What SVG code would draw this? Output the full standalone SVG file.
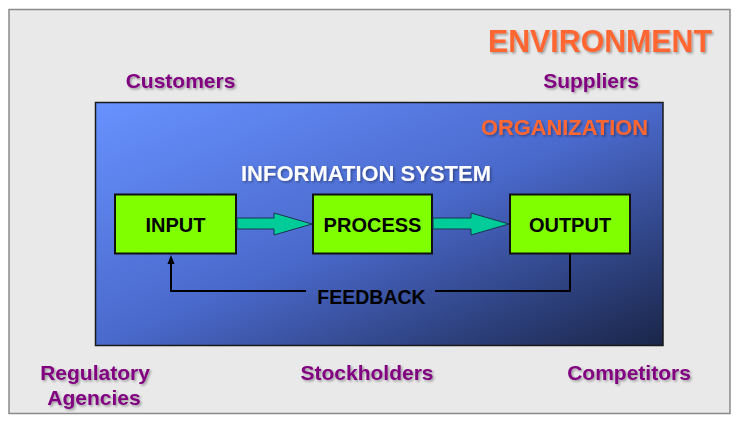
<svg xmlns="http://www.w3.org/2000/svg" width="740" height="424" viewBox="0 0 740 424">
  <defs>
    <linearGradient id="org" x1="0" y1="0" x2="1" y2="1">
      <stop offset="0" stop-color="#6892ff"/>
      <stop offset="0.5" stop-color="#4a69cc"/>
      <stop offset="1" stop-color="#1a2548"/>
    </linearGradient>
    <filter id="sh" x="-10%" y="-20%" width="120%" height="150%">
      <feDropShadow dx="1.5" dy="1.5" stdDeviation="0.8" flood-color="#000" flood-opacity="0.35"/>
    </filter>
    <marker id="ah" viewBox="0 0 8 10" refX="4" refY="1" markerWidth="8" markerHeight="10" markerUnits="userSpaceOnUse" orient="auto-start-reverse">
      <path d="M0,0 L8,5 L0,10 Z" fill="#000"/>
    </marker>
    <style>
      text { font-family: "Liberation Sans", Arial, sans-serif; font-weight: bold; text-anchor: middle; }
      .env { fill: #800080; font-size: 21px; filter: url(#sh); }
      .orange { fill: #ff6633; filter: url(#sh); }
      .box { fill: #80ff00; stroke: #111; stroke-width: 2; }
      .lbl { fill: #000; font-size: 20px; }
      .flow { fill: #00cc99; stroke: #1a3550; stroke-width: 1; }
      .fb { fill: none; stroke: #000; stroke-width: 2; }
    </style>
  </defs>

  <g id="environment">
    <rect x="9" y="9.5" width="721" height="404" fill="#e9e9e9" stroke="#8a8a8a" stroke-width="1.5"/>
    <text class="orange" x="600" y="52" font-size="32" textLength="224" lengthAdjust="spacingAndGlyphs">ENVIRONMENT</text>
  </g>

  <g id="customers"><text class="env" x="180.5" y="88">Customers</text></g>
  <g id="suppliers"><text class="env" x="591" y="88">Suppliers</text></g>
  <g id="regulatory"><text class="env" x="95" y="380">Regulatory</text><text class="env" x="94" y="405">Agencies</text></g>
  <g id="stockholders"><text class="env" x="367" y="380">Stockholders</text></g>
  <g id="competitors"><text class="env" x="629" y="380">Competitors</text></g>

  <g id="organization">
    <rect x="95.5" y="102.5" width="567.5" height="243" fill="url(#org)" stroke="#1a1a1a" stroke-width="1.5"/>
    <text class="orange" x="564.5" y="135" font-size="22" textLength="167" lengthAdjust="spacingAndGlyphs">ORGANIZATION</text>
    <text x="366" y="181" font-size="22" fill="#fff" filter="url(#sh)" textLength="250" lengthAdjust="spacingAndGlyphs">INFORMATION SYSTEM</text>
  </g>

  <g id="input">
    <rect class="box" x="115" y="194.5" width="121" height="59"/>
    <text class="lbl" x="175.5" y="231.5">INPUT</text>
  </g>
  <g id="process">
    <rect class="box" x="313" y="194.5" width="119" height="59"/>
    <text class="lbl" x="372.5" y="231.5">PROCESS</text>
  </g>
  <g id="output">
    <rect class="box" x="510" y="194.5" width="120" height="59"/>
    <text class="lbl" x="570" y="231.5">OUTPUT</text>
  </g>

  <g id="connectors">
    <polygon class="flow" points="237,218 274,218 274,213 312,224 274,235 274,229 237,229"/>
    <polygon class="flow" points="433,218 471,218 471,213 509,224 471,235 471,229 433,229"/>
    <polyline class="fb" points="570,254 570,291 435,291"/>
    <polyline class="fb" points="306,291 171,291 171,263"/>
    <polygon points="171,255 167.5,264 174.5,264" fill="#000"/>
    <text x="371.5" y="304" font-size="19.5" fill="#000">FEEDBACK</text>
  </g>
</svg>
